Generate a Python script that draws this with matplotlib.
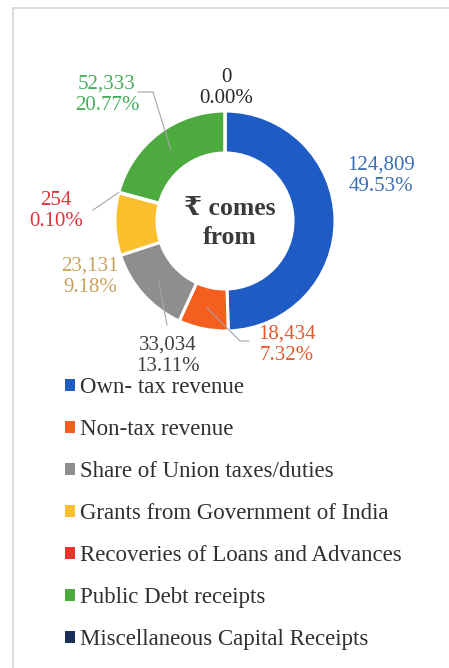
import numpy as np
import matplotlib
matplotlib.use("Agg")
import matplotlib.pyplot as plt
from matplotlib.patches import Patch

plt.rcParams["font.family"] = ["Liberation Serif", "DejaVu Serif"]

# data
categories = [
    "Own- tax revenue",
    "Non-tax revenue",
    "Share of Union taxes/duties",
    "Grants from Government of India",
    "Recoveries of Loans and Advances",
    "Public Debt receipts",
    "Miscellaneous Capital Receipts",
]
amounts = [124809, 18434, 33034, 23131, 254, 52333, 0]
shares = [49.53, 7.32, 13.11, 9.18, 0.10, 20.77, 0.00]

colors = ["#1f5bc4", "#f45f1f", "#8e8e8e", "#fbbf2e", "#e8352b", "#4caa3e", "#1c2d5a"]
label_colors = ["#3a6db5", "#e4592c", "#3f3f3f", "#caa15c", "#e0303a", "#47ad5a", "#262626"]

W, H = 449, 668


def py(y):
    return H - y


fig = plt.figure(figsize=(W / 100, H / 100), dpi=100)
fig.patch.set_facecolor("white")
ax = fig.add_axes([0, 0, 1, 1])

cx, cy, r_out, ring = 225, 221, 110, 42
wedges, _ = ax.pie(
    amounts,
    colors=colors,
    startangle=90,
    counterclock=False,
    radius=r_out,
    center=(cx, py(cy)),
    wedgeprops=dict(width=ring, edgecolor="white", linewidth=2.2),
)
ax.set_xlim(0, W)
ax.set_ylim(0, H)
ax.set_aspect("auto")
ax.axis("off")

# panel frame
ax.plot([13, W], [py(8), py(8)], color="#d6d6d6", lw=1.2)
ax.plot([13, 13], [py(8), py(H)], color="#d6d6d6", lw=1.2)


def ring_point(i, radius):
    w = wedges[i]
    mid = np.deg2rad((w.theta1 + w.theta2) / 2)
    return cx + radius * np.cos(mid), py(cy) + radius * np.sin(mid)


# data labels: (x, y) of label block centre in pixels
label_pos = [(381, 176), (287, 345), (168, 356), (90, 277), (56, 211), (107, 95), (226, 88)]
for i, (lx, ly) in enumerate(label_pos):
    ax.text(lx, py(ly), f"{amounts[i]:,}\n{shares[i]:.2f}%", ha="center", va="center",
            fontsize=15, color=label_colors[i], linespacing=1.2)

# leader lines
leader_col = "#a6a6a6"
x0, y0 = ring_point(5, 89)
ax.plot([x0, 153, 138], [y0, py(92), py(92)], color=leader_col, lw=0.8)
x0, y0 = ring_point(4, r_out)
ax.plot([x0, 93], [y0, py(210)], color=leader_col, lw=0.8)
x0, y0 = ring_point(2, 89)
ax.plot([x0, 167], [y0, py(325)], color=leader_col, lw=0.8)
x0, y0 = ring_point(1, 89)
ax.plot([x0, 240, 249], [y0, py(341), py(341)], color=leader_col, lw=0.8)

ax.text(cx + 5, py(cy + 2), "₹ comes\nfrom", ha="center", va="center", fontsize=18.5,
        fontweight="bold", color="#3a3a3a", linespacing=1.3)

handles = [Patch(facecolor=c, edgecolor="none") for c in colors]
ax.legend(
    handles, categories,
    loc="upper left", bbox_to_anchor=(65, py(377)), bbox_transform=ax.transData,
    frameon=False, fontsize=16.5, handlelength=0.42, handleheight=0.42,
    handletextpad=0.25, labelspacing=0.92, borderpad=0, borderaxespad=0,
    labelcolor="#303030",
)

fig.savefig("out.png", dpi=100, facecolor="white")
plt.close(fig)
